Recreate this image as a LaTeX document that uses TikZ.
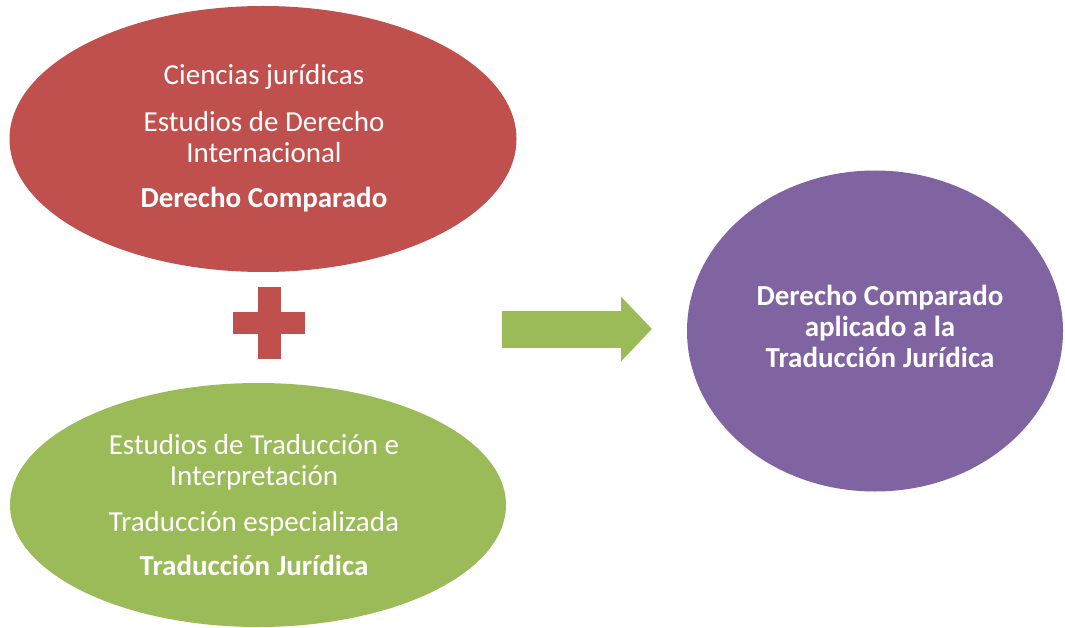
\documentclass[tikz,border=0pt]{standalone}
\usepackage{fontspec}
\setmainfont{Carlito}
\usetikzlibrary{shapes.geometric,arrows.meta}
\definecolor{redE}{HTML}{C0504D}
\definecolor{greenE}{HTML}{9BBB59}
\definecolor{purpleE}{HTML}{8064A2}
\begin{document}
\begin{tikzpicture}[x=1pt,y=-1pt,
  blob/.style={ellipse,inner sep=0pt},
  txt/.style={inner sep=0pt,text=white,align=center,
    font=\fontsize{29}{31}\selectfont},
  plus/.style={fill=redE},
  blockarrow/.style={greenE,line width=37pt,
    -{Triangle[length=31pt,width=63pt]}}]
\useasboundingbox (0,0) rectangle (1065,628);
%legal sciences
\node[blob,fill=redE,minimum width=507pt,minimum height=266pt] (derecho) at (263,139) {};
\node[txt] (derechotxt) at ([xshift=1pt,yshift=1pt]derecho.center)
  {Ciencias jurídicas\\[16pt]Estudios de Derecho\\Internacional\\[14pt]\textbf{Derecho Comparado}};
%translation studies
\node[blob,fill=greenE,minimum width=496pt,minimum height=244pt] (traduccion) at (258,505) {};
\node[txt] (traducciontxt) at ([xshift=-4pt]traduccion.center)
  {Estudios de Traducción e\\Interpretación\\[15pt]Traducción especializada\\[13pt]\textbf{Traducción Jurídica}};
%result
\node[blob,fill=purpleE,minimum width=376pt,minimum height=321pt] (resultado) at (875,331) {};
\node[txt] (resultadotxt) at ([xshift=5pt,yshift=5pt]resultado.center)
  {\textbf{Derecho Comparado}\\\textbf{aplicado a la}\\\textbf{Traducción Jurídica}};
%plus
\fill[plus] (233,312) rectangle (305,334);
\fill[plus] (258,287) rectangle (281,359);
%arrow
\coordinate (cola) at (502,329);
\coordinate (punta) at (652,329);
\draw[blockarrow] (cola) -- (punta);
\end{tikzpicture}
\end{document}
